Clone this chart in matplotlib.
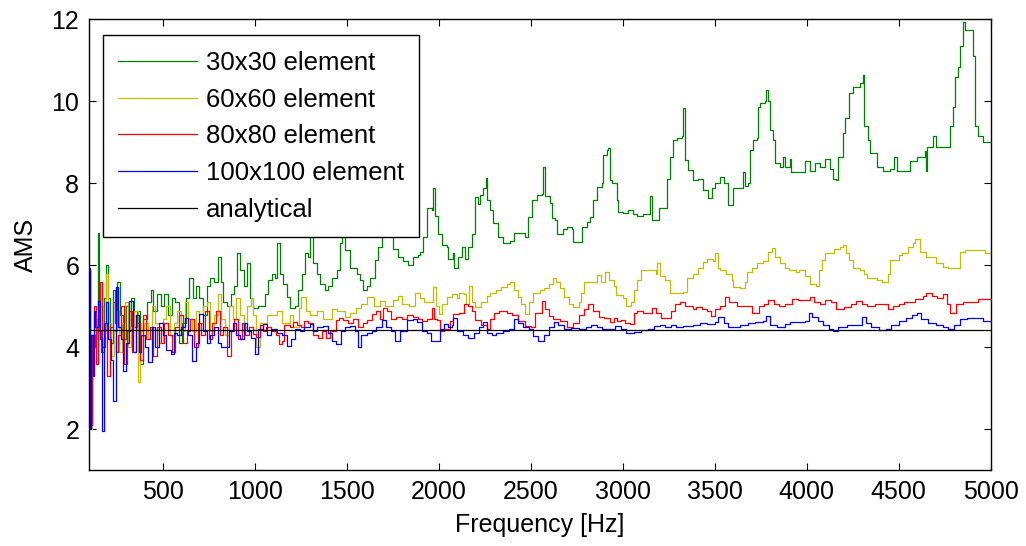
import numpy as np
import matplotlib
matplotlib.use('Agg')
import matplotlib.pyplot as plt

plt.rcParams['font.family'] = ['Liberation Sans', 'DejaVu Sans']

# (frequency [Hz], AMS)
pts_30 = [
    (100, 5.9), (108, 2.1), (118, 4.0), (135, 4.3), (148, 6.8), (155, 4.4), (165, 3.9), (180, 5.2),
    (192, 6.0), (205, 5.2), (215, 4.1), (228, 5.4), (240, 4.6), (255, 5.6), (268, 4.8), (285, 4.2),
    (300, 5.0), (320, 4.4), (330, 5.2), (345, 4.5), (360, 4.9), (380, 3.6), (395, 4.7), (415, 5.1),
    (435, 5.4), (450, 4.9), (470, 5.3), (490, 5.0), (510, 5.3), (530, 4.8), (550, 5.2), (570, 5.1),
    (590, 4.1), (605, 4.6), (625, 5.2), (645, 5.7), (665, 5.2), (680, 5.5), (700, 5.2), (720, 4.8),
    (740, 5.5), (760, 5.7), (780, 5.6), (800, 6.2), (815, 5.6), (830, 5.1), (850, 5.0), (870, 5.3),
    (890, 5.5), (905, 6.3), (920, 5.9), (940, 5.5), (960, 6.05), (975, 5.2), (990, 4.97),
    (1018, 5.0), (1056, 5.3), (1072, 5.64), (1094, 5.8), (1110, 5.7), (1121, 6.54), (1137, 5.8),
    (1154, 5.56), (1175, 5.22), (1192, 4.97), (1219, 5.0), (1235, 5.39), (1257, 5.8), (1273, 6.3),
    (1290, 6.2), (1300, 6.79), (1317, 6.05), (1338, 5.8), (1355, 5.56), (1382, 5.39), (1398, 5.5),
    (1420, 5.7), (1447, 5.88), (1463, 6.54), (1474, 6.81), (1490, 6.37), (1518, 5.95), (1556, 5.8),
    (1572, 5.64), (1588, 5.39), (1610, 5.5), (1626, 5.7), (1654, 6.13), (1670, 6.44), (1692, 6.86),
    (1713, 7.0), (1735, 6.7), (1751, 6.4), (1778, 6.2), (1805, 6.1), (1833, 6.0), (1860, 6.2),
    (1887, 6.25), (1898, 6.32), (1914, 6.69), (1936, 7.4), (1963, 7.35), (1968, 7.9), (1979, 7.2),
    (1995, 6.78), (2017, 6.5), (2044, 6.45), (2050, 6.17), (2077, 6.3), (2082, 5.95), (2104, 6.2),
    (2126, 6.45), (2142, 6.15), (2158, 6.45), (2180, 6.78), (2196, 7.67), (2213, 7.5), (2224, 7.72),
    (2240, 7.9), (2256, 8.13), (2262, 7.6), (2278, 7.35), (2294, 7.03), (2321, 6.69), (2348, 6.54),
    (2386, 6.6), (2408, 6.8), (2441, 6.8), (2468, 6.7), (2484, 7.18), (2506, 7.6), (2533, 7.72),
    (2560, 7.75), (2566, 8.4), (2577, 7.7), (2604, 7.52), (2614, 7.15), (2631, 7.1), (2641, 6.78),
    (2674, 6.9), (2696, 6.95), (2723, 6.9), (2728, 6.57), (2766, 6.57), (2777, 6.94), (2804, 7.05),
    (2820, 7.18), (2837, 7.6), (2858, 7.92), (2886, 8.0), (2891, 8.7), (2913, 8.82), (2918, 8.87),
    (2929, 8.08), (2940, 8.0), (2967, 7.6), (2972, 7.3), (3000, 7.28), (3027, 7.35), (3054, 7.25),
    (3077, 7.2), (3109, 7.25), (3147, 7.7), (3158, 7.1), (3191, 7.1), (3196, 7.4), (3234, 7.4),
    (3240, 8.1), (3256, 8.65), (3272, 9.07), (3294, 9.1), (3321, 9.15), (3327, 9.85), (3337, 8.57),
    (3354, 8.33), (3381, 8.08), (3408, 8.1), (3435, 7.84), (3462, 7.65), (3484, 7.9), (3500, 8.0),
    (3527, 8.15), (3549, 8.0), (3571, 7.47), (3598, 7.9), (3636, 7.9), (3652, 8.28), (3663, 7.95),
    (3679, 8.0), (3690, 8.82), (3706, 9.07), (3728, 9.1), (3734, 9.87), (3744, 9.97), (3772, 10.0),
    (3777, 10.29), (3788, 10.0), (3799, 9.3), (3815, 9.07), (3826, 8.5), (3853, 8.4), (3869, 8.65),
    (3880, 8.4), (3907, 8.6), (3913, 8.28), (3962, 8.28), (3989, 8.55), (4016, 8.3), (4043, 8.5),
    (4071, 8.4), (4098, 8.6), (4125, 8.35), (4141, 8.1), (4157, 8.08), (4168, 8.65), (4195, 9.23),
    (4206, 9.6), (4228, 10.2), (4250, 10.35), (4288, 10.45), (4304, 10.65), (4309, 9.4), (4331, 9.07),
    (4342, 8.75), (4380, 8.4), (4413, 8.3), (4451, 8.35), (4473, 8.65), (4489, 8.3), (4543, 8.3),
    (4560, 8.55), (4598, 8.65), (4641, 8.8), (4647, 8.3), (4652, 8.9), (4685, 9.15), (4701, 8.9),
    (4739, 8.9), (4766, 8.9), (4777, 9.4), (4793, 9.87), (4804, 10.6), (4820, 10.85), (4831, 11.35),
    (4848, 11.95), (4859, 11.75), (4897, 11.75), (4902, 11.1), (4913, 9.4), (4929, 9.15), (4956, 9.0),
    (5000, 9.0),
]

pts_60 = [
    (100, 5.9), (108, 2.0), (118, 3.5), (130, 4.7), (145, 4.2), (160, 5.0), (175, 4.4), (190, 5.8),
    (205, 4.6), (220, 3.8), (235, 4.4), (250, 4.9), (265, 3.9), (280, 4.6), (295, 5.1), (310, 4.0),
    (330, 4.5), (345, 4.9), (365, 3.15), (380, 4.4), (400, 4.6), (420, 4.2), (440, 5.0), (460, 4.6),
    (480, 4.1), (500, 4.7), (520, 5.0), (540, 4.3), (560, 4.6), (580, 4.9), (600, 4.4), (620, 5.1),
    (640, 4.7), (660, 4.4), (680, 4.9), (700, 4.6), (720, 5.0), (740, 5.1), (760, 4.4), (780, 4.8),
    (800, 5.3), (820, 4.7), (840, 4.3), (860, 5.0), (880, 4.7), (900, 5.2), (920, 4.8), (940, 4.5),
    (960, 5.0), (980, 5.2), (990, 4.8), (1010, 4.0), (1030, 4.6), (1070, 4.8), (1120, 4.9),
    (1150, 4.6), (1190, 4.8), (1210, 4.5), (1240, 4.97), (1250, 5.22), (1280, 4.9), (1300, 4.8),
    (1340, 4.9), (1370, 4.7), (1420, 4.95), (1450, 4.9), (1490, 4.75), (1520, 4.85), (1550, 4.97),
    (1580, 5.05), (1610, 5.22), (1650, 5.0), (1680, 5.14), (1710, 5.0), (1750, 5.15), (1780, 5.25),
    (1800, 5.05), (1840, 5.0), (1870, 5.32), (1900, 5.2), (1920, 5.1), (1950, 5.1), (1968, 5.47),
    (1985, 5.0), (2000, 4.82), (2020, 5.05), (2045, 5.22), (2075, 5.3), (2100, 5.2), (2110, 5.34),
    (2140, 5.3), (2150, 5.07), (2165, 5.51), (2180, 5.1), (2200, 4.98), (2230, 5.1), (2260, 5.25),
    (2280, 5.32), (2310, 5.4), (2340, 5.47), (2370, 5.55), (2390, 5.59), (2410, 5.4), (2430, 5.22),
    (2450, 5.07), (2470, 4.82), (2490, 5.1), (2510, 5.34), (2550, 5.4), (2575, 5.45), (2600, 5.56),
    (2620, 5.7), (2640, 5.6), (2660, 5.45), (2680, 5.22), (2710, 5.07), (2730, 4.98), (2760, 5.1),
    (2775, 5.32), (2790, 5.59), (2830, 5.6), (2860, 5.76), (2880, 5.6), (2905, 5.83), (2925, 5.65),
    (2950, 5.5), (2965, 5.27), (2990, 5.27), (3000, 5.2), (3020, 5.02), (3045, 5.1), (3060, 5.39),
    (3075, 5.64), (3100, 5.88), (3150, 5.88), (3180, 5.8), (3185, 6.05), (3200, 5.75), (3230, 5.65),
    (3255, 5.32), (3300, 5.32), (3330, 5.35), (3350, 5.7), (3380, 5.8), (3410, 5.95), (3435, 6.08),
    (3460, 6.17), (3490, 6.1), (3500, 6.3), (3520, 5.95), (3530, 5.88), (3560, 5.8), (3595, 5.64),
    (3600, 5.47), (3640, 5.44), (3665, 5.6), (3675, 5.83), (3700, 5.95), (3730, 6.05), (3760, 6.1),
    (3790, 6.32), (3810, 6.42), (3830, 6.2), (3855, 6.05), (3880, 5.93), (3905, 5.88), (3940, 5.85),
    (3960, 5.88), (3990, 5.75), (4015, 5.56), (4050, 5.5), (4065, 5.88), (4085, 6.13), (4100, 6.3),
    (4150, 6.4), (4180, 6.45), (4195, 6.49), (4215, 6.3), (4230, 6.13), (4250, 5.95), (4290, 5.9),
    (4310, 5.8), (4330, 5.7), (4380, 5.64), (4410, 5.59), (4440, 5.8), (4450, 6.13), (4500, 6.25),
    (4520, 6.3), (4550, 6.44), (4575, 6.54), (4590, 6.64), (4615, 6.32), (4650, 6.2), (4700, 6.05),
    (4740, 5.97), (4770, 5.93), (4820, 5.95), (4830, 6.32), (4860, 6.39), (4950, 6.39), (4970, 6.3),
    (5000, 6.32),
]

pts_80 = [
    (100, 5.9), (106, 2.1), (115, 4.3), (128, 5.0), (140, 3.6), (150, 4.7), (160, 5.6), (170, 4.0),
    (185, 4.6), (200, 3.3), (215, 4.5), (228, 5.1), (245, 3.9), (260, 4.3), (275, 5.0), (290, 3.6),
    (305, 4.4), (320, 4.9), (335, 3.9), (355, 4.6), (375, 3.7), (395, 4.8), (410, 4.2), (430, 4.5),
    (450, 3.8), (470, 4.5), (490, 4.1), (510, 4.6), (530, 4.3), (550, 3.9), (570, 4.5), (590, 4.8),
    (610, 4.1), (630, 4.4), (650, 4.7), (670, 4.0), (690, 4.6), (710, 4.3), (730, 4.9), (750, 4.2),
    (770, 4.6), (790, 4.9), (810, 4.3), (830, 4.5), (850, 3.8), (870, 4.4), (890, 4.7), (910, 4.2),
    (930, 4.6), (950, 4.3), (970, 4.5), (990, 4.34), (1010, 4.25), (1030, 4.55), (1045, 4.4),
    (1060, 4.5), (1090, 4.4), (1115, 4.3), (1130, 4.09), (1150, 4.15), (1160, 4.55), (1190, 4.5),
    (1210, 4.61), (1230, 4.55), (1250, 4.5), (1270, 4.65), (1290, 4.6), (1320, 4.3), (1345, 4.24),
    (1365, 4.4), (1390, 4.24), (1410, 4.4), (1440, 4.66), (1460, 4.73), (1480, 4.66), (1510, 4.6),
    (1535, 4.7), (1560, 4.5), (1590, 4.6), (1610, 4.66), (1640, 4.82), (1660, 4.9), (1680, 4.7),
    (1700, 4.97), (1720, 4.9), (1740, 4.7), (1770, 4.75), (1800, 4.7), (1830, 4.8), (1860, 4.75),
    (1890, 4.7), (1910, 4.65), (1935, 4.7), (1965, 4.97), (1975, 4.7), (1990, 4.68), (2010, 4.41),
    (2030, 4.45), (2060, 4.65), (2080, 4.82), (2110, 4.85), (2140, 5.07), (2160, 5.0), (2180, 4.9),
    (2200, 4.66), (2230, 4.55), (2260, 4.45), (2280, 4.7), (2300, 4.85), (2330, 4.88), (2370, 4.85),
    (2400, 4.8), (2430, 4.65), (2470, 4.53), (2500, 4.5), (2525, 4.85), (2560, 5.14), (2580, 4.95),
    (2600, 4.78), (2620, 4.7), (2660, 4.65), (2700, 4.49), (2730, 4.6), (2760, 4.8), (2790, 4.95),
    (2810, 5.05), (2840, 4.9), (2870, 4.75), (2900, 4.72), (2930, 4.61), (2950, 4.73), (2970, 4.65),
    (2990, 4.68), (3010, 4.6), (3040, 4.58), (3060, 4.85), (3080, 4.9), (3110, 4.85), (3140, 4.83),
    (3160, 4.97), (3180, 4.85), (3210, 4.72), (3240, 4.72), (3265, 4.9), (3285, 5.07), (3310, 5.1),
    (3340, 5.0), (3380, 4.95), (3400, 4.98), (3430, 4.95), (3460, 4.9), (3480, 4.78), (3500, 4.95),
    (3530, 5.0), (3555, 5.22), (3580, 5.1), (3620, 5.02), (3680, 5.0), (3700, 4.85), (3740, 5.0),
    (3770, 5.07), (3790, 5.15), (3820, 5.05), (3850, 5.0), (3880, 5.05), (3920, 5.19), (3950, 5.15),
    (3990, 5.17), (4020, 5.22), (4040, 5.1), (4070, 5.05), (4100, 5.17), (4130, 5.1), (4160, 4.95),
    (4200, 4.98), (4240, 5.05), (4270, 5.14), (4300, 5.05), (4330, 5.0), (4370, 5.05), (4410, 5.05),
    (4440, 4.95), (4470, 5.0), (4500, 5.05), (4530, 5.1), (4560, 5.12), (4590, 5.19), (4630, 5.25),
    (4650, 5.32), (4680, 5.25), (4710, 5.2), (4740, 5.3), (4760, 5.05), (4780, 4.85), (4810, 5.05),
    (4850, 5.1), (4900, 5.12), (4930, 5.19), (4980, 5.19), (5000, 5.17),
]

pts_100 = [
    (100, 5.95), (104, 2.0), (112, 4.3), (120, 3.3), (125, 4.9), (135, 4.5), (150, 5.14), (160, 4.2),
    (170, 1.96), (180, 4.6), (195, 5.1), (205, 4.2), (220, 3.7), (230, 2.7), (245, 5.47), (260, 4.5),
    (275, 4.2), (285, 3.43), (300, 4.1), (320, 5.14), (340, 3.9), (355, 4.8), (370, 3.9), (385, 4.3),
    (405, 4.0), (420, 3.65), (440, 4.5), (460, 4.0), (480, 4.6), (500, 4.3), (520, 3.95), (545, 3.85),
    (560, 4.35), (580, 4.3), (600, 4.5), (620, 4.73), (640, 4.3), (660, 3.68), (680, 4.1), (700, 4.82),
    (720, 4.4), (740, 4.1), (760, 4.3), (780, 4.5), (800, 4.1), (820, 4.0), (840, 4.0), (860, 4.4),
    (880, 4.6), (900, 4.3), (920, 4.2), (940, 4.6), (960, 4.4), (980, 4.24), (1000, 3.85),
    (1020, 4.45), (1045, 4.58), (1070, 4.3), (1090, 4.45), (1120, 4.35), (1150, 4.3), (1175, 4.04),
    (1200, 4.2), (1220, 4.45), (1245, 4.4), (1270, 4.5), (1300, 4.58), (1320, 4.4), (1340, 4.5),
    (1370, 4.52), (1400, 4.35), (1420, 4.15), (1440, 4.09), (1470, 4.4), (1490, 4.5), (1520, 4.52),
    (1545, 4.4), (1560, 4.0), (1580, 4.3), (1610, 4.35), (1640, 4.4), (1660, 4.5), (1690, 4.66),
    (1715, 4.5), (1740, 4.4), (1765, 4.15), (1790, 4.4), (1830, 4.66), (1860, 4.7), (1880, 4.62),
    (1910, 4.41), (1935, 4.35), (1960, 4.17), (1990, 4.15), (2010, 4.45), (2030, 4.58), (2050, 4.5),
    (2070, 4.55), (2080, 4.73), (2100, 4.4), (2130, 4.3), (2160, 4.24), (2190, 4.35), (2220, 4.5),
    (2240, 4.61), (2260, 4.35), (2290, 4.3), (2310, 4.35), (2350, 4.4), (2380, 4.45), (2410, 4.7),
    (2430, 4.6), (2460, 4.5), (2490, 4.45), (2515, 4.29), (2540, 4.17), (2570, 4.3), (2600, 4.5),
    (2625, 4.61), (2650, 4.55), (2680, 4.45), (2720, 4.47), (2760, 4.45), (2800, 4.5), (2830, 4.56),
    (2860, 4.5), (2890, 4.45), (2920, 4.45), (2960, 4.53), (2990, 4.45), (3020, 4.36), (3060, 4.38),
    (3100, 4.42), (3140, 4.45), (3170, 4.53), (3200, 4.55), (3230, 4.5), (3260, 4.56), (3290, 4.5),
    (3330, 4.52), (3380, 4.55), (3420, 4.6), (3460, 4.58), (3500, 4.62), (3520, 4.75), (3550, 4.6),
    (3570, 4.49), (3600, 4.5), (3640, 4.55), (3680, 4.6), (3720, 4.62), (3760, 4.65), (3780, 4.78),
    (3800, 4.55), (3840, 4.5), (3880, 4.58), (3910, 4.61), (3950, 4.61), (3990, 4.65), (4010, 4.85),
    (4030, 4.75), (4060, 4.65), (4090, 4.55), (4120, 4.45), (4140, 4.41), (4170, 4.5), (4220, 4.55),
    (4260, 4.55), (4300, 4.75), (4320, 4.6), (4350, 4.5), (4390, 4.42), (4430, 4.45), (4460, 4.55),
    (4500, 4.65), (4540, 4.73), (4570, 4.8), (4600, 4.85), (4620, 4.7), (4660, 4.6), (4700, 4.55),
    (4740, 4.5), (4770, 4.46), (4800, 4.55), (4830, 4.7), (4870, 4.73), (4920, 4.72), (4960, 4.65),
    (5000, 4.62),
]

analytical = 4.43
freq_range = [100, 5000]

series = [
    ('30x30 element', pts_30, '#008000'),
    ('60x60 element', pts_60, '#bfbf00'),
    ('80x80 element', pts_80, '#ff0000'),
    ('100x100 element', pts_100, '#0000ff'),
]

fig = plt.figure(figsize=(10.26, 5.46), dpi=100)
ax = fig.add_axes([0.0867, 0.1383, 0.879, 0.826])

for label, pts, color in series:
    f, v = np.array(pts).T
    ax.plot(f, v, color=color, lw=0.9, drawstyle='steps-post', label=label)

ax.plot(freq_range, [analytical, analytical], color='black', lw=0.9, label='analytical')

ax.set_xlim(100, 5000)
ax.set_ylim(1, 12)
ax.set_xticks(np.arange(500, 5001, 500))
ax.set_yticks(np.arange(2, 13, 2))
ax.tick_params(direction='in', top=True, right=True, length=5, labelsize=18, pad=7)
for s in ax.spines.values():
    s.set_linewidth(1.0)

ax.set_xlabel('Frequency [Hz]', fontsize=18, labelpad=6)
ax.set_ylabel('AMS', fontsize=18, labelpad=10)

leg = ax.legend(loc='upper left', bbox_to_anchor=(0.0155, 0.965), fontsize=18.5,
                frameon=True, fancybox=False, framealpha=1, edgecolor='black',
                handlelength=3.05, handletextpad=0.35, labelspacing=0.5, borderpad=0.6,
                borderaxespad=0)
leg.get_frame().set_linewidth(1.0)

fig.savefig('out.png', dpi=100)
